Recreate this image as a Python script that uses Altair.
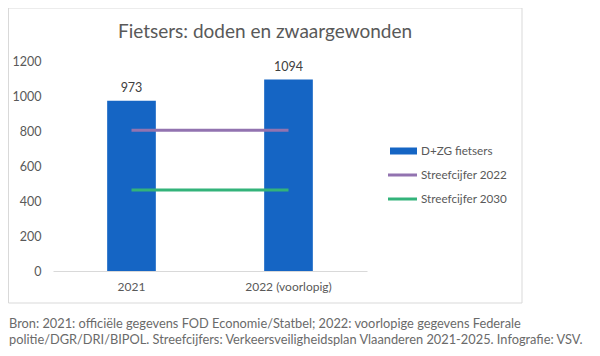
import altair as alt
import pandas as pd

categories = ["2021", "2022 (voorlopig)"]
values = [973, 1094]
series_names = ["D+ZG fietsers", "Streefcijfer 2022", "Streefcijfer 2030"]
target_2022 = [805, 805]
target_2030 = [463, 463]
y_ticks = [0, 200, 400, 600, 800, 1000, 1200]
title_text = "Fietsers: doden en zwaargewonden"
footnote = [
    "Bron: 2021: officiële gegevens FOD Economie/Statbel; 2022: voorlopige gegevens Federale",
    "politie/DGR/DRI/BIPOL. Streefcijfers: Verkeersveiligheidsplan Vlaanderen 2021-2025. Infografie: VSV.",
]

BLUE = "#1565C4"
PURPLE = "#9273B0"
GREEN = "#33B37A"
GREY = "#595959"
FONT = "Lato"

bars_df = pd.DataFrame({"cat": categories, "value": values})
lines_df = pd.DataFrame({
    "cat": categories * 2,
    "value": target_2022 + target_2030,
    "series": [series_names[1]] * 2 + [series_names[2]] * 2,
})

xscale = alt.Scale(paddingInner=0.69, paddingOuter=0.345)
yscale = alt.Scale(domain=[0, 1200], nice=False)
yaxis = alt.Axis(title=None, values=y_ticks, format="d", labelOverlap=False,
                 grid=False, domain=False, ticks=False,
                 labelColor=GREY, labelFont=FONT, labelFontSize=12.5, labelPadding=12)
xaxis = alt.Axis(title=None, labelAngle=0, ticks=False, domainColor="#d9d9d9",
                 labelColor=GREY, labelFont=FONT, labelFontSize=12, labelPadding=10)

frame = alt.Chart(pd.DataFrame({"a": [0]})).mark_rect(
    fill="white", fillOpacity=0, stroke="#d9d9d9", strokeWidth=1
).encode(x=alt.value(-44.5), x2=alt.value(469), y=alt.value(-53), y2=alt.value(242))

bars = alt.Chart(bars_df).mark_bar(color=BLUE).encode(
    x=alt.X("cat:N", sort=categories, scale=xscale, axis=xaxis),
    y=alt.Y("value:Q", scale=yscale, axis=yaxis),
)

bar_labels = alt.Chart(bars_df).mark_text(
    dy=-9, baseline="alphabetic", font=FONT, fontSize=12.5, color="#404040"
).encode(x=alt.X("cat:N", sort=categories, axis=xaxis),
         y=alt.Y("value:Q", scale=yscale, axis=yaxis), text="value:Q")

lines = alt.Chart(lines_df).mark_line(strokeWidth=3).encode(
    x=alt.X("cat:N", sort=categories, axis=xaxis),
    y=alt.Y("value:Q", scale=yscale, axis=yaxis),
    color=alt.Color("series:N", scale=alt.Scale(domain=series_names[1:], range=[PURPLE, GREEN]),
                    legend=None),
)

title = alt.Chart(pd.DataFrame({"t": [title_text]})).mark_text(
    font=FONT, fontSize=19, color=GREY, align="center", baseline="middle"
).encode(x=alt.value(212), y=alt.value(-29), text="t:N")

# legend
leg_bar = alt.Chart(pd.DataFrame({"a": [0]})).mark_rect(color=BLUE).encode(
    x=alt.value(337), x2=alt.value(364), y=alt.value(86.5), y2=alt.value(93.5))
leg_l1 = alt.Chart(pd.DataFrame({"a": [0]})).mark_rule(color=PURPLE, strokeWidth=3).encode(
    x=alt.value(335), x2=alt.value(364), y=alt.value(114))
leg_l2 = alt.Chart(pd.DataFrame({"a": [0]})).mark_rule(color=GREEN, strokeWidth=3).encode(
    x=alt.value(335), x2=alt.value(364), y=alt.value(138))
leg_texts = []
for name, yy in zip(series_names, [90, 114, 138]):
    leg_texts.append(
        alt.Chart(pd.DataFrame({"t": [name]})).mark_text(
            font=FONT, fontSize=11.7, color=GREY, align="left", baseline="middle"
        ).encode(x=alt.value(368), y=alt.value(yy), text="t:N")
    )

foot = []
for line, yy in zip(footnote, [263, 279]):
    foot.append(
        alt.Chart(pd.DataFrame({"t": [line]})).mark_text(
            font=FONT, fontSize=12.8, color="#6a6a6a", align="left", baseline="middle"
        ).encode(x=alt.value(-44), y=alt.value(yy), text="t:N")
    )

chart = alt.layer(frame, bars, bar_labels, lines, title, leg_bar, leg_l1, leg_l2, *leg_texts, *foot).properties(
    width=314, height=210,
    autosize=alt.AutoSizeParams(type="none"),
    padding={"left": 45, "top": 53, "right": 225, "bottom": 77},
    background="white",
).configure_view(stroke=None).configure_axisY(labelOverlap=False)

chart.save("out.html", embed_options={"renderer": "svg", "actions": False})
